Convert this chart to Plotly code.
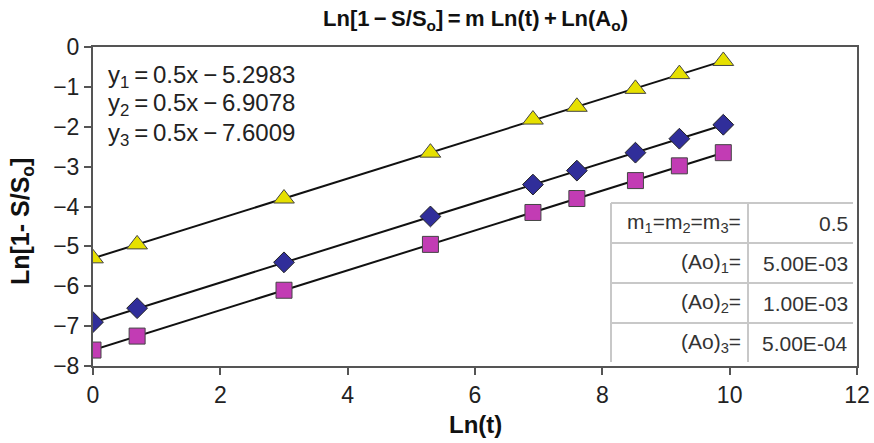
import plotly.graph_objects as go

x_vals = [0.0, 0.693, 3.0, 5.3, 6.91, 7.6, 8.52, 9.21, 9.9]
y1_vals = [-5.3, -4.95, -3.8, -2.65, -1.82, -1.5, -1.05, -0.68, -0.35]
y2_vals = [-6.9, -6.55, -5.4, -4.25, -3.45, -3.1, -2.65, -2.3, -1.95]
y3_vals = [-7.6, -7.25, -6.1, -4.95, -4.15, -3.8, -3.35, -2.98, -2.65]

fit_x = [0.0, 9.9]
fit1 = [-5.2983, -0.3483]
fit2 = [-6.9078, -1.9578]
fit3 = [-7.6009, -2.6509]

equations = ["y<sub>1</sub>\u2009=\u20090.5x\u2009\u2212\u20095.2983",
             "y<sub>2</sub>\u2009=\u20090.5x\u2009\u2212\u20096.9078",
             "y<sub>3</sub>\u2009=\u20090.5x\u2009\u2212\u20097.6009"]
table_left = ["m<sub>1</sub>=m<sub>2</sub>=m<sub>3</sub>=", "(Ao)<sub>1</sub>=", "(Ao)<sub>2</sub>=", "(Ao)<sub>3</sub>="]
table_right = ["0.5", "5.00E-03", "1.00E-03", "5.00E-04"]

FONT = "Liberation Sans, Arial, sans-serif"
fig = go.Figure()
for fy in [fit1, fit2, fit3]:
    fig.add_trace(go.Scatter(x=fit_x, y=fy, mode="lines", line=dict(color="#111", width=2), showlegend=False))
fig.add_trace(go.Scatter(x=x_vals, y=y1_vals, mode="markers", showlegend=False,
                         marker=dict(symbol="triangle-up", size=18, color="#E6E000", line=dict(color="#444", width=1))))
fig.add_trace(go.Scatter(x=x_vals, y=y2_vals, mode="markers", showlegend=False,
                         marker=dict(symbol="diamond", size=16, color="#302E9A", line=dict(color="#222", width=1))))
fig.add_trace(go.Scatter(x=x_vals, y=y3_vals, mode="markers", showlegend=False,
                         marker=dict(symbol="square", size=16, color="#C23CB4", line=dict(color="#444", width=1))))

W, H = 874, 443
L, R, T, B = 93, 17, 47, 77
pw, ph = W - L - R, H - T - B
def px(xp):
    return (xp - L) / pw
def py(yp):
    return (H - B - yp) / ph

ann = []
for i, e in enumerate(equations):
    ann.append(dict(x=px(106), y=py(76 + i * 29), xref="paper", yref="paper", text=e, showarrow=False,
                    xanchor="left", yanchor="middle", font=dict(family=FONT, size=24, color="#222")))
row_tops = [203, 243, 283, 323]
for i in range(4):
    yc = row_tops[i] + 20
    ann.append(dict(x=px(743), y=py(yc), xref="paper", yref="paper", text=table_left[i], showarrow=False,
                    xanchor="right", yanchor="middle", font=dict(family=FONT, size=21, color="#333")))
    ann.append(dict(x=px(850), y=py(yc), xref="paper", yref="paper", text=table_right[i], showarrow=False,
                    xanchor="right", yanchor="middle", font=dict(family=FONT, size=21, color="#333")))
ann.append(dict(x=px(475), y=py(20), xref="paper", yref="paper", showarrow=False, xanchor="center", yanchor="middle",
                text="<b>Ln[1\u2009\u2212\u2009S/S<sub>o</sub>]\u2009=\u2009m Ln(t)\u2009+\u2009Ln(A<sub>o</sub>)</b>",
                font=dict(family=FONT, size=22, color="#111")))
ann.append(dict(x=px(475), y=py(424), xref="paper", yref="paper", showarrow=False, xanchor="center", yanchor="middle",
                text="<b>Ln(t)</b>", font=dict(family=FONT, size=24, color="#111")))
ann.append(dict(x=px(22), y=py(222), xref="paper", yref="paper", showarrow=False, xanchor="center", yanchor="middle",
                textangle=-90, text="<b>Ln[1- S/S<sub>o</sub>]</b>", font=dict(family=FONT, size=25, color="#111")))

shapes = []
for yt in row_tops:
    shapes.append(dict(type="line", xref="paper", yref="paper", x0=px(611), x1=px(853), y0=py(yt), y1=py(yt),
                       line=dict(color="#c8c8c8", width=2)))
for xv in [611, 748]:
    shapes.append(dict(type="line", xref="paper", yref="paper", x0=px(xv), x1=px(xv), y0=py(203), y1=py(362),
                       line=dict(color="#c8c8c8", width=2)))

fig.update_layout(
    width=W, height=H, margin=dict(l=L, r=R, t=T, b=B, autoexpand=False),
    paper_bgcolor="white", plot_bgcolor="white",
    annotations=ann, shapes=shapes,
    xaxis=dict(range=[0, 12], dtick=2, showgrid=False, zeroline=False, showline=True, mirror=True, automargin=False,
               linecolor="#555", linewidth=2, ticks="outside", ticklen=7, tickcolor="#555", tickwidth=2,
               tickfont=dict(family=FONT, size=23, color="#222")),
    yaxis=dict(range=[-8, 0], dtick=1, showgrid=False, zeroline=False, showline=True, mirror=True, automargin=False,
               linecolor="#555", linewidth=2, ticks="outside", ticklen=7, tickcolor="#555", tickwidth=2,
               tickfont=dict(family=FONT, size=23, color="#222")),
)
fig.write_html("out.html", config={"displayModeBar": False},
               post_script="document.body.style.margin='0';document.body.style.overflow='hidden';")
